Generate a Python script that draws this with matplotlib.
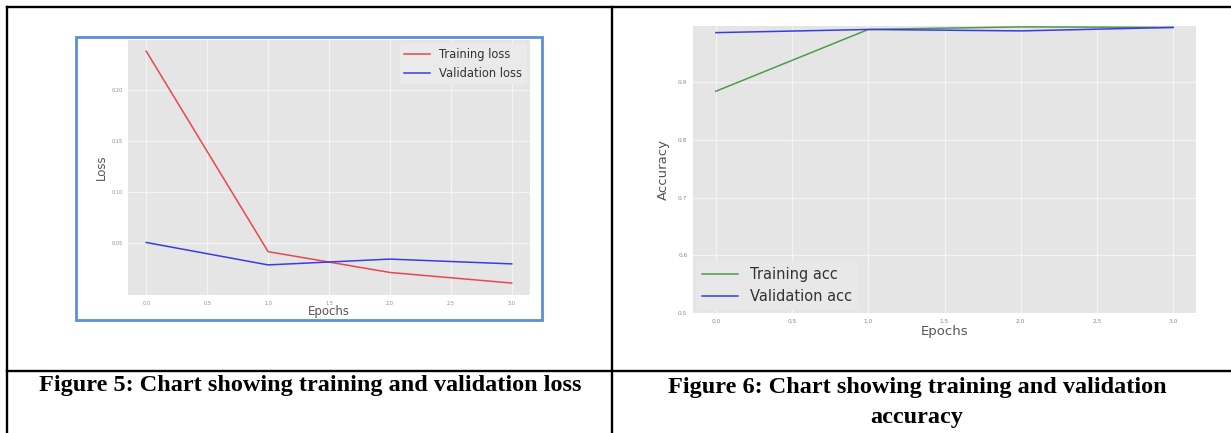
import matplotlib
matplotlib.use("Agg")
import matplotlib.pyplot as plt
from matplotlib.patches import Rectangle
from matplotlib.lines import Line2D

# ---------------- data ----------------
epochs = [0, 1, 2, 3]
train_loss = [0.2385, 0.042, 0.0216, 0.0112]
val_loss = [0.051, 0.029, 0.0347, 0.030]
train_acc = [0.884, 0.991, 0.9955, 0.9945]
val_acc = [0.9855, 0.991, 0.9885, 0.9945]

x_ticks = [0.0, 0.5, 1.0, 1.5, 2.0, 2.5, 3.0]
loss_yticks = [0.05, 0.10, 0.15, 0.20]
acc_yticks = [0.5, 0.6, 0.7, 0.8, 0.9]

caption1 = "Figure 5: Chart showing training and validation loss"
caption2a = "Figure 6: Chart showing training and validation"
caption2b = "accuracy"

# ---------------- figure ----------------
W, H = 1231, 433
fig = plt.figure(figsize=(W / 100, H / 100), dpi=100)
fig.patch.set_facecolor("white")


def rect(x0, y0, x1, y1):
    """pixel box (top-left origin) -> figure fraction rect"""
    return [x0 / W, 1 - y1 / H, (x1 - x0) / W, (y1 - y0) / H]


def fx(x):
    return x / W


def fy(y):
    return 1 - y / H


def style_ax(ax, tick_fs):
    ax.set_facecolor("#E5E5E5")
    for s in ax.spines.values():
        s.set_visible(False)
    ax.grid(True, color="#F4F4F4", lw=0.9)
    ax.set_axisbelow(True)
    ax.tick_params(axis="both", length=0, pad=4, labelsize=tick_fs,
                   labelcolor="#8a8a8a")


# ---------------- table lines ----------------
lw_tab = 1.7
for (xa, ya, xb, yb) in [(7, 7, 1231, 7), (7, 7, 7, 433), (612, 7, 612, 433),
                         (7, 371, 1231, 371)]:
    fig.add_artist(Line2D([fx(xa), fx(xb)], [fy(ya), fy(yb)], color="black",
                          lw=lw_tab, transform=fig.transFigure,
                          solid_capstyle="projecting"))

# ---------------- left chart (loss) ----------------
fig.add_artist(Rectangle((fx(76), fy(320)), fx(542) - fx(76), fy(37) - fy(320),
                         transform=fig.transFigure, fill=False,
                         edgecolor="#5B8FDB", lw=2.0))

ax1 = fig.add_axes(rect(128, 40, 530, 295))
style_ax(ax1, 3.6)
ax1.plot(epochs, train_loss, color="#E8474F", lw=1.1, label="Training loss")
ax1.plot(epochs, val_loss, color="#3B3BE6", lw=1.1, label="Validation loss")
ax1.set_xlim(-0.15, 3.15)
ax1.set_ylim(-0.0005, 0.2495)
ax1.set_xticks(x_ticks)
ax1.set_yticks(loss_yticks)
ax1.set_xlabel("Epochs", fontsize=8.5, color="#555555", va="center")
ax1.xaxis.set_label_coords(0.5, -0.063)
ax1.set_ylabel("Loss", fontsize=8.5, color="#555555", va="center")
ax1.yaxis.set_label_coords(-0.065, 0.5)
leg1 = ax1.legend(loc="upper right", fontsize=8.3, frameon=True,
                  facecolor="#EAEAEA", edgecolor="none", framealpha=1,
                  handlelength=2.2, borderaxespad=0.3)
for t in leg1.get_texts():
    t.set_color("#333333")

# ---------------- right chart (accuracy) ----------------
ax2 = fig.add_axes(rect(693, 26, 1196, 313))
style_ax(ax2, 4.2)
ax2.plot(epochs, train_acc, color="#4E9A4E", lw=1.1, label="Training acc")
ax2.plot(epochs, val_acc, color="#3B3BE6", lw=1.1, label="Validation acc")
ax2.set_xlim(-0.15, 3.15)
ax2.set_ylim(0.5, 0.997)
ax2.set_xticks(x_ticks)
ax2.set_yticks(acc_yticks)
ax2.set_xlabel("Epochs", fontsize=9.5, color="#555555", va="center")
ax2.xaxis.set_label_coords(0.5, -0.066)
ax2.set_ylabel("Accuracy", fontsize=9.5, color="#555555", va="center")
ax2.yaxis.set_label_coords(-0.058, 0.5)
leg2 = ax2.legend(loc="lower left", fontsize=10.5, frameon=True,
                  facecolor="#E8E8E8", edgecolor="none", framealpha=1,
                  handlelength=2.5, borderaxespad=0.2)
for t in leg2.get_texts():
    t.set_color("#333333")

# ---------------- captions ----------------
cap_font = dict(family="Liberation Serif", fontweight="bold", color="black")
t1 = fig.text(fx(310), fy(386), caption1, ha="center", va="center",
              fontsize=14, **cap_font)
t2 = fig.text(fx(917), fy(387), caption2a, ha="center", va="center",
              fontsize=14, **cap_font)
t3 = fig.text(fx(917), fy(418), caption2b, ha="center", va="center",
              fontsize=14, **cap_font)

# fit caption widths to the reference
fig.canvas.draw()
r = fig.canvas.get_renderer()
w1 = t1.get_window_extent(r).width
scale = 545.0 / w1
for t in (t1, t2, t3):
    t.set_fontsize(14 * scale)

fig.savefig("out.png", dpi=100, facecolor="white")
